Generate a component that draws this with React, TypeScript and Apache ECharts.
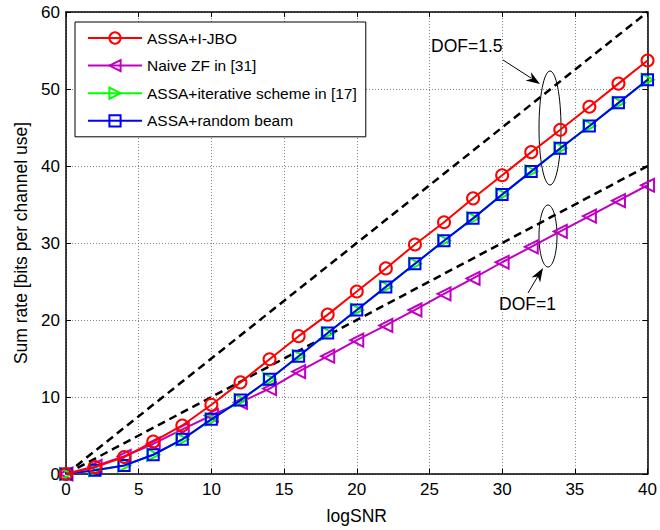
import React, { useEffect, useRef } from "react";
import * as echarts from "echarts";

const xValues = [0, 2, 4, 6, 8, 10, 12, 14, 16, 18, 20, 22, 24, 26, 28, 30, 32, 34, 36, 38, 40];
const ijbo = [0, 0.9, 2.2, 4.2, 6.3, 9.0, 11.9, 14.9, 17.9, 20.7, 23.7, 26.7, 29.8, 32.7, 35.8, 38.8, 41.8, 44.7, 47.7, 50.7, 53.7];
const naiveZF = [0, 1.0, 2.3, 3.9, 5.8, 7.6, 9.3, 11.1, 13.3, 15.3, 17.4, 19.3, 21.3, 23.4, 25.4, 27.5, 29.5, 31.5, 33.5, 35.5, 37.5];
const iterative = [0, 0.5, 1.1, 2.5, 4.5, 7.1, 9.6, 12.3, 15.3, 18.3, 21.3, 24.3, 27.3, 30.3, 33.2, 36.3, 39.3, 42.3, 45.2, 48.2, 51.2];
const randomBeam = [0, 0.5, 1.1, 2.5, 4.5, 7.1, 9.6, 12.3, 15.3, 18.3, 21.3, 24.3, 27.3, 30.3, 33.2, 36.3, 39.3, 42.3, 45.2, 48.2, 51.2];
const dofHighX = [0, 40];
const dofHigh = [0, 60];
const dofLowX = [0, 40];
const dofLow = [0, 40];
const seriesNames = ["ASSA+I-JBO", "Naive ZF in [31]", "ASSA+iterative scheme in [17]", "ASSA+random beam"];

const FONT = "Liberation Sans, Arial, sans-serif";

function pair(xs: number[], ys: number[]) {
  return xs.map((x, i) => [x, ys[i]]);
}

function arrowHead(x1: number, y1: number, x2: number, y2: number, len: number, half: number) {
  const dx = x2 - x1;
  const dy = y2 - y1;
  const d = Math.sqrt(dx * dx + dy * dy);
  const ux = dx / d;
  const uy = dy / d;
  const bx = x2 - ux * len;
  const by = y2 - uy * len;
  const px = -uy;
  const py = ux;
  const nx = x2 - ux * len * 0.7;
  const ny = y2 - uy * len * 0.7;
  return [
    [x2, y2],
    [bx + px * half, by + py * half],
    [nx, ny],
    [bx - px * half, by - py * half],
  ];
}

export default function App() {
  const ref = useRef<HTMLDivElement>(null);
  useEffect(() => {
    if (!ref.current) return;
    const chart = echarts.init(ref.current, null, { renderer: "svg" });
    const axisCommon = {
      type: "value" as const,
      axisLine: { show: true, onZero: false, lineStyle: { color: "#000", width: 1.5 } },
      axisTick: { show: true, inside: true, length: 5, lineStyle: { color: "#000", width: 1 } },
    };
    const mkLine = (name: string, data: number[], color: string, symbol: string, size: number, rotate: number, z: number) => ({
      name,
      type: "line",
      data: pair(xValues, data),
      symbol,
      symbolSize: size,
      symbolRotate: rotate,
      showSymbol: true,
      z,
      lineStyle: { color, width: 2 },
      itemStyle: { color: "rgba(0,0,0,0)", borderColor: color, borderWidth: 2 },
      emphasis: { disabled: true },
    });
    const a1 = arrowHead(503, 60, 540, 84, 14, 5);
    const a2 = arrowHead(528, 293, 543, 268, 14, 5);
    chart.setOption({
      animation: false,
      textStyle: { fontFamily: FONT },
      grid: { left: 66, right: 4, top: 12, bottom: 56 },
      legend: {
        orient: "vertical",
        left: 75,
        top: 22,
        data: seriesNames,
        backgroundColor: "#fff",
        borderColor: "#000",
        borderWidth: 1,
        borderRadius: 0,
        padding: [8, 9, 8, 12],
        itemWidth: 54,
        itemHeight: 14,
        itemGap: 11.6,
        textStyle: { fontSize: 15.5, color: "#000", fontFamily: FONT },
        z: 10,
      },
      xAxis: [
        {
          ...axisCommon,
          min: 0,
          max: 40,
          interval: 5,
          position: "bottom",
          name: "logSNR",
          nameLocation: "middle",
          nameGap: 33,
          nameTextStyle: { fontSize: 17.5, color: "#000", fontFamily: FONT },
          axisLabel: { fontSize: 17, color: "#000", margin: 7, fontFamily: FONT },
          splitLine: { show: true, lineStyle: { color: "#666", type: [1, 2], width: 0.8 } },
        },
        {
          ...axisCommon,
          min: 0,
          max: 40,
          interval: 5,
          position: "top",
          axisLabel: { show: false },
          splitLine: { show: false },
        },
      ],
      yAxis: [
        {
          ...axisCommon,
          min: 0,
          max: 60,
          interval: 10,
          position: "left",
          name: "Sum rate [bits per channel use]",
          nameLocation: "middle",
          nameGap: 36,
          nameTextStyle: { fontSize: 17.5, color: "#000", fontFamily: FONT },
          axisLabel: { fontSize: 17, color: "#000", margin: 6, fontFamily: FONT },
          splitLine: { show: true, lineStyle: { color: "#666", type: [1, 2], width: 0.8 } },
        },
        {
          ...axisCommon,
          min: 0,
          max: 60,
          interval: 10,
          position: "right",
          axisLabel: { show: false },
          splitLine: { show: false },
        },
      ],
      series: [
        {
          name: "DOF=1.5",
          type: "line",
          data: pair(dofHighX, dofHigh),
          symbol: "none",
          z: 1,
          lineStyle: { color: "#000", width: 2.5, type: [8, 5] },
          emphasis: { disabled: true },
        },
        {
          name: "DOF=1",
          type: "line",
          data: pair(dofLowX, dofLow),
          symbol: "none",
          z: 1,
          lineStyle: { color: "#000", width: 2.5, type: [8, 5] },
          emphasis: { disabled: true },
        },
        mkLine(seriesNames[1], naiveZF, "#c000c0", "triangle", 13, 90, 2),
        mkLine(seriesNames[2], iterative, "#00ff00", "triangle", 12, -90, 3),
        mkLine(seriesNames[3], randomBeam, "#0000ff", "rect", 11, 0, 4),
        mkLine(seriesNames[0], ijbo, "#ff0000", "circle", 12, 0, 5),
      ],
      graphic: [
        {
          type: "text",
          left: 431,
          top: 37,
          style: { text: "DOF=1.5", fontSize: 17.5, fill: "#000", fontFamily: FONT },
        },
        {
          type: "line",
          shape: { x1: 503, y1: 60, x2: 531, y2: 78 },
          style: { stroke: "#000", lineWidth: 1 },
        },
        { type: "polygon", shape: { points: a1 }, style: { fill: "#000" } },
        {
          type: "ellipse",
          shape: { cx: 550, cy: 128, rx: 11, ry: 57 },
          style: { fill: "none", stroke: "#000", lineWidth: 1 },
        },
        {
          type: "text",
          left: 499,
          top: 295,
          style: { text: "DOF=1", fontSize: 17.5, fill: "#000", fontFamily: FONT },
        },
        {
          type: "line",
          shape: { x1: 528, y1: 293, x2: 538, y2: 276 },
          style: { stroke: "#000", lineWidth: 1 },
        },
        { type: "polygon", shape: { points: a2 }, style: { fill: "#000" } },
        {
          type: "ellipse",
          shape: { cx: 548, cy: 236, rx: 9, ry: 31 },
          style: { fill: "none", stroke: "#000", lineWidth: 1 },
        },
      ],
    });
    return () => chart.dispose();
  }, []);
  return <div ref={ref} style={{ width: 660, height: 530, position: "absolute", left: 0, top: 0, background: "#fff" }} />;
}
